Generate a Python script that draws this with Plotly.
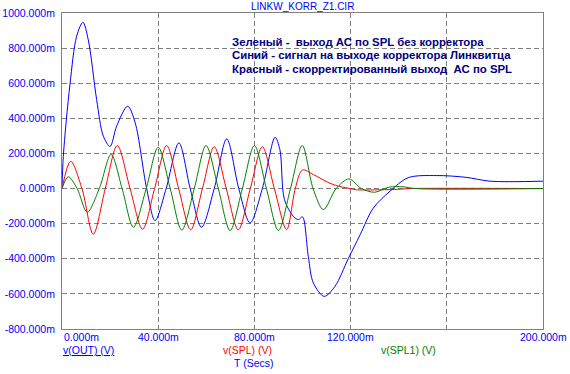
import plotly.graph_objects as go

# ---- data (time in ms, values in mV) ----
t_out = [0, 0.55, 3.3, 6.1, 8.7, 10.9, 14.4, 17.2, 20.0, 22.7, 27.3, 30.4, 35.2, 38.7, 43.3,
         48.6, 53.3, 58.0, 63.3, 68.5, 73.5, 78.2, 83.3, 88.6, 90.6, 92.5, 96.2, 98.3, 100.0,
         102.4, 104.5, 109.0, 113.5, 119.0, 124.0, 129.4, 136.4, 144.0, 155.8, 168.0, 178.0, 200.0]
v_out = [0, 184, 592, 868, 947, 849, 507, 298, 240, 355, 469, 376, 0, -182, 0,
         260, 0, -220, 0, 283, 0, -196, 0, 292, 222, -63, -158, -177, -161,
         -386, -537, -614, -557, -400, -262, -112, -15, 62, 74, 64, 42, 42]

t_spl = [0, 3.6, 8.3, 13.0, 18.0, 23.0, 28.3, 33.5, 38.5, 43.5, 48.5, 53.5, 58.4, 63.3,
         68.3, 73.3, 78.3, 83.3, 88.3, 93.4, 97.0, 100.0, 104.5, 111.4, 116.0, 119.8, 122.5,
         132.0, 140.0, 145.0, 200.0]
v_spl = [0, 156, 0, -260, 0, 245, 0, -232, 0, 245, 0, -235, 0, 238,
         0, -235, 0, 238, 0, -234, 0, 106, 80, 30, 10, 0, -7,
         -7, -4, 0, 0]

t_spl1 = [0, 2.6, 6.3, 10.5, 15.5, 20.4, 25.0, 29.7, 35.0, 40.0, 45.0, 49.8, 55.0, 59.9,
          65.0, 69.9, 75.0, 80.0, 85.0, 90.0, 95.0, 99.9, 104.4, 108.7, 114.0, 119.3,
          124.5, 130.0, 136.0, 141.8, 147.0, 200.0]
v_spl1 = [0, 67, 0, -135, 0, 194, 0, -220, 0, 235, 0, -237, 0, 245,
          0, -239, 0, 245, 0, -239, 0, 245, 0, -120, 0, 55,
          0, -21, 8, 10, 0, 0]

y_tick_vals = [1000, 800, 600, 400, 200, 0, -200, -400, -600, -800]
y_tick_text = ["1000.000m", "800.000m", "600.000m", "400.000m", "200.000m", "0.000m",
               "-200.000m", "-400.000m", "-600.000m", "-800.000m"]
x_grid_vals = [0, 40, 80, 120, 160, 200]
x_label_vals = [0, 40, 80, 120, 200]
x_label_text = ["0.000m", "40.000m", "80.000m", "120.000m", "200.000m"]

title_text = "LINKW_KORR_Z1.CIR"
note_lines = ["Зеленый -  выход АС по SPL без корректора",
              "Синий - сигнал на выходе корректора Линквитца",
              "Красный - скорректированный выход  АС по SPL"]

BLUE = "#0000FF"
RED = "#FF0000"
GREEN = "#008000"
NAVY = "#000080"
GRID = "#808080"
FONT = "Liberation Sans, Arial, sans-serif"

fig = go.Figure()
fig.add_trace(go.Scatter(x=t_out, y=v_out, mode="lines", line=dict(color=BLUE, width=1, shape="spline", smoothing=0.9),
                         name="v(OUT)"))
fig.add_trace(go.Scatter(x=t_spl, y=v_spl, mode="lines", line=dict(color=RED, width=1, shape="spline", smoothing=0.9),
                         name="v(SPL)"))
fig.add_trace(go.Scatter(x=t_spl1, y=v_spl1, mode="lines", line=dict(color=GREEN, width=1, shape="spline", smoothing=0.9),
                         name="v(SPL1)"))

fig.update_layout(
    width=570, height=374,
    margin=dict(l=62, r=27, t=13, b=45, autoexpand=False),
    paper_bgcolor="white", plot_bgcolor="white",
    showlegend=False,
    font=dict(family=FONT, size=10.5, color=BLUE),
)
fig.update_xaxes(range=[0, 200], tickvals=x_grid_vals, showticklabels=False, automargin=False,
                 showgrid=True, gridcolor=GRID, griddash="5px,3px", gridwidth=1,
                 showline=True, linecolor=GRID, linewidth=1, mirror=True, zeroline=False, ticks="")
fig.update_yaxes(range=[-800, 1000], tickvals=y_tick_vals, ticktext=y_tick_text, automargin=False,
                 showgrid=True, gridcolor=GRID, griddash="5px,3px", gridwidth=1,
                 showline=True, linecolor=GRID, linewidth=1, mirror=True, zeroline=False, ticks="",
                 tickfont=dict(family=FONT, size=10.5, color=BLUE), ticklabelstandoff=4)

# x tick labels (first one sits to the right of its tick, the rest are centred)
for i, (xv, tx) in enumerate(zip(x_label_vals, x_label_text)):
    if i == 0:
        fig.add_annotation(x=0, y=0, xref="paper", yref="paper", yshift=-8, text=tx, showarrow=False,
                           xanchor="left", yanchor="middle", font=dict(family=FONT, size=10.5, color=BLUE))
    else:
        fig.add_annotation(x=xv, y=0, xref="x", yref="paper", yshift=-8, text=tx, showarrow=False,
                           xanchor="center", yanchor="middle", font=dict(family=FONT, size=10.5, color=BLUE))

# title
fig.add_annotation(x=0.5, y=1, xref="paper", yref="paper", yshift=7, text=title_text, showarrow=False,
                   xanchor="center", yanchor="middle", font=dict(family=FONT, size=10, color=BLUE))

# notes
for i, line in enumerate(note_lines):
    fig.add_annotation(x=230, y=41.7 + 13.5 * i, xref="paper", yref="paper", text="<b>" + line + "</b>",
                       showarrow=False, xanchor="left", yanchor="middle",
                       font=dict(family=FONT, size=11.4, color=NAVY))

# bottom trace labels
bottom = [("<u>v(OUT) (V)</u>", 61, 350, BLUE), ("v(SPL) (V)", 221, 350, RED),
          ("v(SPL1) (V)", 379, 350, GREEN), ("T (Secs)", 232, 363, BLUE)]
for tx, px, py, col in bottom:
    fig.add_annotation(x=px, y=py, xref="paper", yref="paper", text=tx, showarrow=False,
                       xanchor="left", yanchor="middle", font=dict(family=FONT, size=10.5, color=col))

# convert pixel coordinates in notes/bottom labels to paper coords
pl, pr, pt, pb = 62, 543, 13, 329
for a in fig.layout.annotations:
    if a.xref == "paper" and a.x is not None and a.x > 1.5:
        a.x = (a.x - pl) / (pr - pl)
        a.y = (pb - a.y) / (pb - pt)

fig.write_html("out.html", config={"displayModeBar": False},
               post_script="document.body.style.margin='0';document.body.style.overflow='hidden';")
